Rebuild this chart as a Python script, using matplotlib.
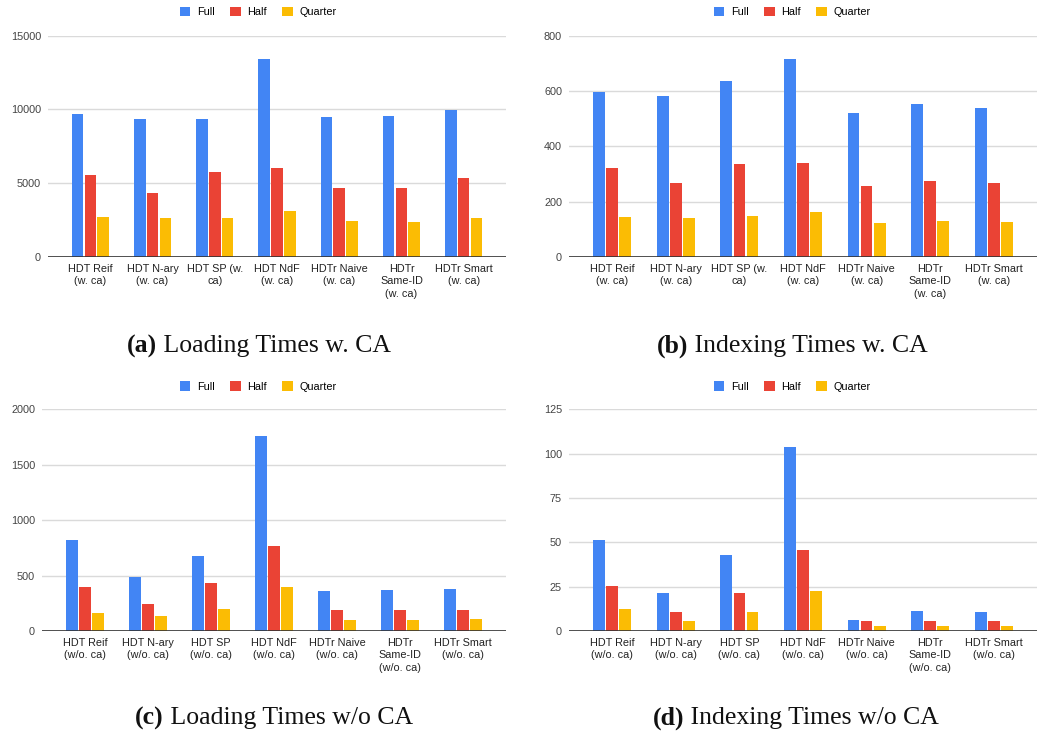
import matplotlib.pyplot as plt
import numpy as np

# categories (w. ca / w/o. ca)
labels_w = ['HDT Reif\n(w. ca)', 'HDT N-ary\n(w. ca)', 'HDT SP (w.\nca)', 'HDT NdF\n(w. ca)',
            'HDTr Naive\n(w. ca)', 'HDTr\nSame-ID\n(w. ca)', 'HDTr Smart\n(w. ca)']
labels_wo = ['HDT Reif\n(w/o. ca)', 'HDT N-ary\n(w/o. ca)', 'HDT SP\n(w/o. ca)', 'HDT NdF\n(w/o. ca)',
             'HDTr Naive\n(w/o. ca)', 'HDTr\nSame-ID\n(w/o. ca)', 'HDTr Smart\n(w/o. ca)']
series = ['Full', 'Half', 'Quarter']

# (a) loading times w. CA
load_w_full = [9700, 9350, 9350, 13390, 9520, 9570, 9950]
load_w_half = [5550, 4350, 5770, 6020, 4700, 4700, 5340]
load_w_quarter = [2700, 2670, 2630, 3100, 2450, 2380, 2630]

# (b) indexing times w. CA
index_w_full = [597, 581, 637, 717, 520, 554, 539]
index_w_half = [321, 266, 336, 339, 257, 274, 266]
index_w_quarter = [146, 140, 148, 163, 124, 130, 127]

# (c) loading times w/o CA
load_wo_full = [821, 484, 674, 1762, 364, 373, 379]
load_wo_half = [394, 244, 436, 767, 189, 189, 189]
load_wo_quarter = [165, 135, 198, 394, 96, 96, 111]

# (d) indexing times w/o CA
index_wo_full = [51.3, 21.2, 42.7, 103.8, 6.0, 11.5, 10.9]
index_wo_half = [25.2, 10.9, 21.2, 45.5, 5.5, 5.5, 5.5]
index_wo_quarter = [12.4, 5.5, 10.9, 22.4, 2.6, 2.6, 2.6]

colors = ['#4285F4', '#EA4335', '#FBBC04']
W, H = 1038, 735
tick_font = 'Liberation Sans'

fig = plt.figure(figsize=(W / 100, H / 100), dpi=100)


def panel(rect, labels, values, yticks, legend_xy):
    left, right, top, bottom = rect
    ax = fig.add_axes([left / W, 1 - bottom / H, (right - left) / W, (bottom - top) / H])
    x = np.arange(len(labels))
    bars = []
    for i, vals in enumerate(values):
        b = ax.bar(x + (i - 1) * 0.205, vals, width=0.185, color=colors[i], zorder=3)
        bars.append(b)
    ax.set_xlim(-0.68, 6.68)
    ax.set_ylim(0, yticks[-1])
    ax.set_yticks(yticks)
    ax.set_yticklabels([str(t) for t in yticks], fontsize=7.8, color='#444444', family=tick_font)
    ax.set_xticks(x)
    ax.set_xticklabels(labels, fontsize=7.8, color='#222222', family=tick_font, linespacing=1.3)
    ax.tick_params(length=0, axis='y', pad=5)
    ax.tick_params(length=0, axis='x', pad=5)
    ax.grid(axis='y', color='#dadada', linewidth=1, zorder=0)
    for s in ax.spines.values():
        s.set_visible(False)
    ax.axhline(0, color='#333333', linewidth=1.2, zorder=4)
    fig.legend(bars, series, loc='center', ncol=3,
               bbox_to_anchor=(legend_xy[0] / W, 1 - legend_xy[1] / H),
               frameon=False, handlelength=1.0, handleheight=1.0, handletextpad=0.6,
               columnspacing=1.4, prop={'family': tick_font, 'size': 7.8})
    return ax


panel((48, 506, 35.7, 257), labels_w, [load_w_full, load_w_half, load_w_quarter],
      [0, 5000, 10000, 15000], (258, 12))
panel((569, 1037, 35.7, 257), labels_w, [index_w_full, index_w_half, index_w_quarter],
      [0, 200, 400, 600, 800], (792, 12))
panel((42, 506, 409.3, 631), labels_wo, [load_wo_full, load_wo_half, load_wo_quarter],
      [0, 500, 1000, 1500, 2000], (258, 386.5))
panel((569, 1037, 409.3, 631), labels_wo, [index_wo_full, index_wo_half, index_wo_quarter],
      [0, 25, 50, 75, 100, 125], (792, 386.5))

# captions, bold letter + normal text, centred together
captions = [('(a)', 'Loading Times w. CA', 259, 346),
            ('(b)', 'Indexing Times w. CA', 792, 346),
            ('(c)', 'Loading Times w/o CA', 274, 718),
            ('(d)', 'Indexing Times w/o CA', 796, 718)]
renderer = fig.canvas.get_renderer()
for letter, text, cx, cy in captions:
    t1 = fig.text(0, 1 - cy / H, letter, fontsize=18.5, family='Liberation Serif',
                  weight='bold', va='center', ha='left', color='#111111')
    t2 = fig.text(0, 1 - cy / H, ' ' + text, fontsize=18.5, family='Liberation Serif',
                  va='center', ha='left', color='#111111')
    w1 = t1.get_window_extent(renderer).width
    w2 = t2.get_window_extent(renderer).width
    x0 = cx - (w1 + w2) / 2
    t1.set_x(x0 / W)
    t2.set_x((x0 + w1) / W)

plt.savefig('out.png', dpi=100)
